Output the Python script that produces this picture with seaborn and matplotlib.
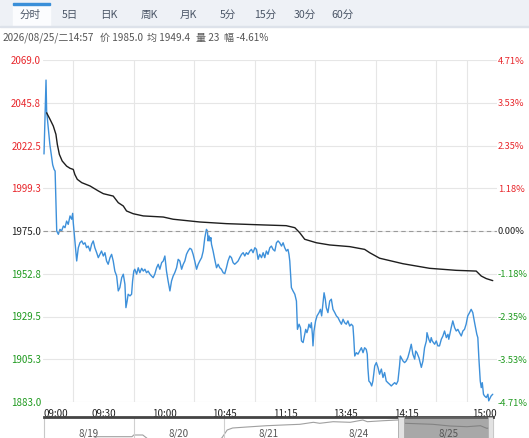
import numpy as np
import pandas as pd
import matplotlib
matplotlib.use("Agg")
import matplotlib.pyplot as plt
from matplotlib.patches import Rectangle
import seaborn as sns

# header texts
tab_names = ["分时", "5日", "日K", "周K", "月K", "5分", "15分", "30分", "60分"]
info_parts = ["2026/08/25/二14:57", "价 1985.0", "均 1949.4", "量 23", "幅 -4.61%"]

# y axis (previous settle in the middle, +-4.71%)
pre_close = 1975.0
max_pct = 4.71
left_labels = ["1883.0", "1905.3", "1929.5", "1952.8", "1975.0", "1999.3", "2022.5", "2045.8", "2069.0"]
right_labels = ["-4.71%", "-3.53%", "-2.35%", "-1.18%", "0.00%", "1.18%", "2.35%", "3.53%", "4.71%"]

# x axis: trading minutes after 09:00 (breaks removed)
session_len = 225
time_ticks = [0, 30, 60, 90, 120, 150, 180, 225]
time_labels = ["09:00", "09:30", "10:00", "10:45", "11:15", "13:45", "14:15", "15:00"]

# price line (minute, price)
price_min = [0.5, 1.5, 1.8, 2.6, 3.4, 4.8, 5.5, 6.0, 6.8, 7.6,
             8.4, 9.2, 10.1, 10.9, 11.7, 12.5, 13.4, 14.2, 14.7, 15.0,
             15.8, 16.7, 17.5, 18.3, 19.2, 20.0, 20.8, 21.6, 22.4, 23.3,
             24.1, 24.9, 25.7, 26.6, 27.4, 28.2, 29.0, 29.9, 30.7, 31.5,
             32.3, 33.2, 34.0, 34.8, 35.6, 36.5, 37.3, 38.1, 39.0, 39.8,
             40.6, 41.1, 41.7, 42.2, 43.1, 43.9, 44.4, 45.0, 45.5, 46.4,
             47.2, 48.0, 48.9, 49.7, 50.5, 51.3, 52.1, 53.0, 53.8, 54.6,
             55.4, 56.3, 57.1, 57.9, 58.8, 59.6, 60.4, 61.2, 62.0, 62.9,
             63.7, 64.5, 65.3, 66.2, 67.0, 67.8, 68.7, 69.5, 70.3, 71.1,
             71.9, 72.8, 73.6, 74.4, 75.2, 76.1, 76.9, 77.7, 78.6, 79.4,
             80.2, 81.0, 81.5, 81.8, 82.3, 82.7, 83.2, 83.5, 84.3, 85.1,
             86.0, 86.8, 87.6, 88.4, 89.3, 90.1, 90.9, 91.7, 92.6, 93.4,
             94.2, 95.0, 95.9, 96.7, 97.5, 98.4, 99.2, 100.0, 100.8, 101.6,
             102.5, 103.3, 104.1, 105.0, 105.8, 106.6, 107.4, 108.3, 109.1, 109.9,
             110.7, 111.5, 112.4, 113.2, 114.0, 114.9, 115.7, 116.5, 117.3, 118.2,
             119.0, 119.8, 120.6, 121.4, 121.9, 122.3, 123.1, 123.9, 124.8, 125.6,
             126.1, 126.9, 127.6, 128.1, 128.9, 129.7, 130.2, 130.8, 131.3, 131.8,
             132.5, 133.0, 133.5, 133.8, 134.3, 135.1, 135.8, 136.8, 137.5, 138.1,
             138.8, 139.3, 139.9, 140.4, 141.2, 142.1, 142.9, 143.7, 144.6, 145.4,
             146.2, 147.0, 147.9, 148.7, 149.5, 150.3, 151.1, 152.0, 152.8, 153.6,
             154.0, 154.5, 155.3, 156.1, 156.9, 157.8, 158.6, 159.4, 160.2, 160.7,
             161.0, 161.5, 162.2, 162.9, 163.5, 164.4, 165.2, 166.0, 166.8, 167.7,
             168.5, 169.3, 170.1, 170.9, 171.8, 172.6, 173.4, 174.3, 175.1, 175.9,
             176.7, 177.1, 178.4, 179.2, 180.0, 180.8, 181.7, 182.5, 183.3, 184.2,
             184.7, 185.3, 186.3, 187.5, 188.3, 189.1, 190.0, 190.3, 191.2, 191.9,
             192.4, 192.9, 194.1, 194.9, 195.7, 196.5, 197.4, 198.2, 199.0, 199.9,
             200.7, 201.1, 202.3, 203.1, 204.0, 204.8, 205.6, 206.4, 207.3, 208.1,
             208.9, 209.7, 210.5, 211.4, 212.2, 213.0, 213.9, 215.0, 215.5, 216.0,
             216.7, 217.2, 217.7, 218.3, 218.8, 219.7, 220.5, 220.9, 222.1, 222.9]
price_val = [2016.9, 2057.1, 2040.3, 2031.2, 2022.1, 2011.0, 2008.5, 2007.6, 1975.0, 1973.2,
             1975.9, 1975.0, 1977.7, 1976.8, 1980.4, 1978.6, 1983.2, 1981.4, 1984.6, 1979.5,
             1969.6, 1958.7, 1965.9, 1968.6, 1969.6, 1967.8, 1968.6, 1965.9, 1966.8, 1964.1,
             1967.8, 1969.6, 1965.9, 1963.2, 1960.5, 1962.3, 1964.1, 1961.4, 1963.2, 1958.7,
             1956.9, 1960.5, 1962.3, 1958.7, 1953.2, 1950.5, 1942.4, 1944.2, 1949.6, 1951.5,
             1946.0, 1933.3, 1936.9, 1940.6, 1939.7, 1940.6, 1947.8, 1953.2, 1954.2, 1951.5,
             1955.0, 1952.3, 1954.7, 1953.2, 1954.2, 1952.3, 1953.2, 1951.5, 1950.5, 1949.6,
             1951.5, 1955.0, 1956.9, 1954.2, 1957.8, 1958.7, 1961.4, 1953.2, 1947.8, 1942.4,
             1947.8, 1950.5, 1952.3, 1955.0, 1959.6, 1958.7, 1954.2, 1956.9, 1958.7, 1962.3,
             1964.1, 1965.6, 1965.0, 1962.3, 1958.7, 1954.2, 1956.9, 1958.7, 1960.5, 1964.1,
             1971.4, 1975.9, 1975.0, 1969.6, 1972.3, 1969.6, 1971.4, 1967.8, 1964.1, 1959.6,
             1955.0, 1956.9, 1955.0, 1954.2, 1952.3, 1951.8, 1955.0, 1958.7, 1961.4, 1960.5,
             1957.8, 1956.9, 1957.8, 1958.7, 1960.5, 1962.3, 1963.2, 1961.4, 1963.2, 1962.3,
             1964.1, 1965.0, 1963.2, 1965.9, 1965.0, 1959.6, 1962.3, 1960.5, 1963.2, 1960.5,
             1964.1, 1962.3, 1965.9, 1966.8, 1965.0, 1964.1, 1968.6, 1969.6, 1968.6, 1966.8,
             1968.6, 1965.9, 1964.1, 1965.0, 1962.3, 1958.7, 1944.2, 1942.4, 1940.6, 1936.9,
             1921.5, 1924.3, 1922.4, 1915.2, 1914.3, 1918.8, 1921.5, 1919.7, 1921.5, 1924.3,
             1922.4, 1925.1, 1918.8, 1912.5, 1920.6, 1926.1, 1928.8, 1930.6, 1932.4, 1928.8,
             1936.0, 1941.4, 1937.9, 1933.3, 1930.6, 1936.9, 1937.9, 1932.4, 1930.6, 1928.8,
             1927.9, 1926.1, 1924.3, 1927.0, 1925.1, 1924.3, 1926.1, 1923.3, 1924.3, 1923.3,
             1917.0, 1907.0, 1908.8, 1908.0, 1909.7, 1911.5, 1908.8, 1911.5, 1910.6, 1908.0,
             1900.8, 1893.4, 1892.5, 1890.7, 1893.4, 1901.6, 1903.4, 1900.8, 1897.1, 1899.9,
             1895.3, 1898.0, 1893.4, 1892.5, 1891.6, 1890.7, 1891.6, 1892.5, 1891.6, 1893.4,
             1901.6, 1907.0, 1904.3, 1903.4, 1904.3, 1906.1, 1909.7, 1913.4, 1908.0, 1905.3,
             1909.7, 1908.8, 1906.1, 1900.8, 1904.3, 1911.5, 1915.2, 1919.7, 1916.1, 1914.3,
             1917.0, 1915.2, 1913.4, 1915.2, 1912.5, 1912.5, 1916.1, 1917.9, 1920.6, 1917.0,
             1918.8, 1916.1, 1922.4, 1926.1, 1922.4, 1920.6, 1921.5, 1919.7, 1917.9, 1920.6,
             1921.5, 1924.3, 1928.8, 1930.6, 1932.4, 1930.6, 1925.1, 1918.8, 1917.0, 1906.1,
             1893.4, 1889.8, 1892.5, 1886.2, 1885.3, 1884.4, 1886.2, 1882.6, 1885.3, 1886.2]

# average price line
avg_min = [1.8, 3.5, 5.1, 6.4, 7.1, 8.1, 9.5, 11.7, 13.4, 15.0,
           15.8, 17.0, 19.2, 23.3, 27.4, 29.9, 34.8, 37.3, 39.8, 41.4,
           44.7, 49.7, 59.6, 64.5, 77.7, 90.9, 109.1, 120.5, 124.8, 127.2,
           129.7, 135.5, 142.1, 152.0, 159.4, 161.9, 166.8, 178.4, 191.6, 204.8,
           214.7, 217.2, 219.7, 222.9]
avg_val = [2039.3, 2035.7, 2032.1, 2027.6, 2022.1, 2016.7, 2013.1, 2010.3, 2009.1, 2008.5,
           2005.7, 2003.1, 2001.3, 1999.5, 1996.8, 1995.3, 1994.0, 1990.4, 1988.6, 1985.9,
           1984.4, 1983.2, 1982.6, 1981.4, 1979.9, 1979.0, 1978.3, 1977.9, 1976.8, 1974.1,
           1970.5, 1968.6, 1967.4, 1966.5, 1965.0, 1963.2, 1960.2, 1957.2, 1954.7, 1953.6,
           1953.2, 1950.5, 1949.1, 1948.0]

# navigator strip (5 days, mini trend)
nav_days = ["8/19", "8/20", "8/21", "8/24", "8/25"]
nav_x = [0.0, 0.5, 0.59, 0.98, 1.0, 1.1, 1.2, 1.9, 1.98, 2.04,
         2.1, 2.26, 2.48, 2.66, 2.85, 3.0, 3.07, 3.22, 3.41, 3.55,
         3.6, 3.78, 3.94, 4.02, 4.33, 4.52, 4.71, 4.86, 4.93, 4.97]
nav_y = [-4, -3, 1.3, 1.3, 3.0, 3.0, -4, -4, 0, 8,
         10, 11, 12.3, 13, 13.7, 15.7, 14.7, 16.3, 15.7, 18,
         16.3, 17.3, 18, 14.7, 13.7, 12, 11.3, 12.3, 9.7, 10]
nav_sel = (4.01, 4.94)

sns.set_style("white")
plt.rcParams["font.family"] = ["Noto Sans CJK SC", "DejaVu Sans"]

W, H = 529, 438
fig = plt.figure(figsize=(W / 100, H / 100), dpi=100)

# tab bar
fig.patches.append(Rectangle((0, 1 - 26 / H), 1, 26 / H, transform=fig.transFigure,
                             color="#eef1f6", zorder=0))
fig.patches.append(Rectangle((13 / W, 1 - 26 / H), 37 / W, 22 / H, transform=fig.transFigure,
                             color="#fbfcfe", zorder=1))
fig.patches.append(Rectangle((13 / W, 1 - 5 / H), 37 / W, 1.6 / H, transform=fig.transFigure,
                             color="#3a8fd9", zorder=2))
fig.patches.append(Rectangle((0, 1 - 26.5 / H), 1, 0.8 / H, transform=fig.transFigure,
                             color="#dde2ea", zorder=1))
tab_x = [30, 70, 109, 149, 188, 228, 265, 305, 342]
for name, tx in zip(tab_names, tab_x):
    fig.text(tx / W, 1 - 15 / H, name, ha="center", va="center", fontsize=7.6, color="#4a5566")
info_x = [3, 100, 147, 196, 224]
for part, ix in zip(info_parts, info_x):
    fig.text(ix / W, 1 - 38 / H, part, ha="left", va="center", fontsize=7.2, color="#555555")

# main chart
ax = fig.add_axes([43 / W, 36 / H, 454 / W, 342 / H])
df_price = pd.DataFrame({"minute": price_min, "price": price_val})
df_avg = pd.DataFrame({"minute": avg_min, "price": avg_val})
sns.lineplot(data=df_price, x="minute", y="price", ax=ax, color="#3d90da",
             linewidth=1.0, estimator=None)
sns.lineplot(data=df_avg, x="minute", y="price", ax=ax, color="#1e1e1e",
             linewidth=1.0, estimator=None)

lo = pre_close * (1 - max_pct / 100)
hi = pre_close * (1 + max_pct / 100)
yt = np.linspace(lo, hi, len(left_labels))
ax.set_xlim(0, session_len)
ax.set_ylim(lo, hi)
ax.set_yticks(yt)
ax.set_yticklabels(left_labels)
ax.set_xticks(time_ticks)
ax.set_xticklabels(time_labels)
ax.set_xticks(np.arange(15, session_len, 15), minor=True)
ax.set_xlabel("")
ax.set_ylabel("")
ax.xaxis.grid(True, which="minor", color="#e6e6e6", linewidth=0.8)
ax.yaxis.grid(True, which="major", color="#e6e6e6", linewidth=0.8)
ax.axhline(pre_close, color="#9a9a9a", linewidth=0.8, linestyle=(0, (4, 3)))
ax.tick_params(axis="both", which="both", length=0, labelsize=7)
ax.tick_params(axis="y", pad=1.5)
ax.tick_params(axis="x", pad=5)
for s in ax.spines.values():
    s.set_visible(False)

xl = ax.get_xticklabels()
xl[0].set_horizontalalignment("left")
xl[-1].set_horizontalalignment("right")
for t in xl:
    t.set_color("#222222")


def level_color(i):
    mid = len(left_labels) // 2
    if i > mid:
        return "#e8262b"
    if i < mid:
        return "#1f9a1f"
    return "#222222"


for i, t in enumerate(ax.get_yticklabels()):
    t.set_color(level_color(i))

ax2 = ax.twinx()
ax2.set_ylim(lo, hi)
ax2.set_yticks(yt)
ax2.set_yticklabels(right_labels)
ax2.tick_params(axis="y", length=0, labelsize=6.7, pad=0.5)
for i, t in enumerate(ax2.get_yticklabels()):
    t.set_color(level_color(i))
for s in ax2.spines.values():
    s.set_visible(False)

# navigator
nav = fig.add_axes([44 / W, -8 / H, 449 / W, 29 / H])
nav.set_xlim(0, len(nav_days))
nav.set_ylim(-8, 21)
sns.lineplot(x=nav_x, y=nav_y, ax=nav, color="#a0a0a0", linewidth=0.8, estimator=None)
for d in [1, 2]:
    nav.axvline(d, color="#d0d0d0", linewidth=0.8)
nav.axvspan(nav_sel[0], nav_sel[1], color="#6f6f6f", alpha=0.6, zorder=3, linewidth=0)
nav.axvspan(nav_sel[0] - 0.07, nav_sel[0], facecolor="#e2e2e2", edgecolor="#a8a8a8",
            linewidth=0.6, zorder=4)
nav.axvspan(nav_sel[1], nav_sel[1] + 0.06, facecolor="#e2e2e2", edgecolor="#a8a8a8",
            linewidth=0.6, zorder=4)
for i, d in enumerate(nav_days):
    nav.text(i + 0.5, 4, d, ha="center", va="center", fontsize=7, color="#555555", zorder=5)
nav.set_xticks([])
nav.set_yticks([])
nav.set_xlabel("")
nav.set_ylabel("")
for k, s in nav.spines.items():
    s.set_color("#c8c8c8")
    s.set_linewidth(0.8)
nav.spines["top"].set_color("#444444")
nav.spines["top"].set_linewidth(2)

fig.savefig("out.png", dpi=100)
